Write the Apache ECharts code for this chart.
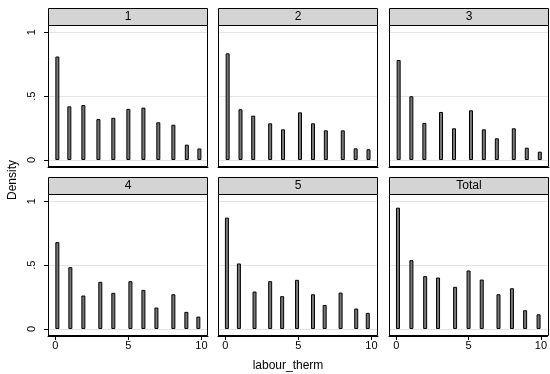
<!DOCTYPE html>
<html>
  <head>
    <meta charset="utf-8" />
    <title>labour_therm histogram</title>
    <style>
      body {
        margin: 0;
        padding: 0;
        background: #fff;
      }
      #chart {
        width: 550px;
        height: 374px;
      }
    </style>
  </head>
  <body>
    <div id="chart"></div>
    <script src="https://cdn.jsdelivr.net/npm/echarts@6/dist/echarts.min.js"></script>
    <script type="text/javascript">
      // panel titles
      var panelNames = ['1', '2', '3', '4', '5', 'Total'];

      // bar centres (labour_therm)
      var x1 = [0.14, 0.96, 1.92, 2.95, 3.97, 5.0, 6.03, 7.05, 8.08, 9.0, 9.86];
      var x2 = [0.16, 1.04, 1.91, 3.07, 3.95, 5.11, 6.0, 6.88, 8.04, 8.92, 9.8];
      var x3 = [0.16, 1.03, 1.92, 3.06, 3.95, 5.11, 5.99, 6.88, 8.04, 8.93, 9.82];
      var x4 = [0.14, 1.03, 1.92, 3.08, 3.97, 5.14, 6.03, 6.92, 8.08, 8.97, 9.79];
      var x5 = [0.11, 0.93, 2.0, 3.07, 3.89, 4.91, 6.0, 6.8, 7.89, 8.96, 9.75];
      var xTotal = [0.12, 1.05, 2.0, 2.89, 4.07, 5.0, 5.91, 7.07, 8.0, 8.91, 9.84];

      // densities
      var d1 = [0.81, 0.42, 0.43, 0.32, 0.33, 0.4, 0.41, 0.295, 0.276, 0.12, 0.09];
      var d2 = [0.835, 0.397, 0.347, 0.287, 0.24, 0.373, 0.287, 0.232, 0.232, 0.091, 0.084];
      var d3 = [0.783, 0.499, 0.29, 0.376, 0.248, 0.389, 0.24, 0.17, 0.248, 0.096, 0.065];
      var d4 = [0.68, 0.484, 0.262, 0.369, 0.283, 0.374, 0.306, 0.168, 0.272, 0.134, 0.097];
      var d5 = [0.872, 0.513, 0.293, 0.374, 0.257, 0.385, 0.272, 0.188, 0.285, 0.16, 0.126];
      var dTotal = [0.95, 0.539, 0.414, 0.403, 0.33, 0.458, 0.387, 0.272, 0.319, 0.147, 0.115];

      // axis ticks
      var xTicks = [0, 5, 10];
      var yTicks = [0, 0.5, 1];

      var panelX = [x1, x2, x3, x4, x5, xTotal];
      var panelD = [d1, d2, d3, d4, d5, dTotal];

      var font = 'Liberation Sans, Arial, Helvetica, sans-serif';
      var colLeft = [48, 218, 389];
      var rowTop = [25, 194];
      var plotW = 160;
      var plotH = 142;
      var headH = 17;

      var grids = [], xAxes = [], yAxes = [], series = [], graphics = [];

      panelNames.forEach(function (name, i) {
        var col = i % 3;
        var row = Math.floor(i / 3);
        var left = colLeft[col];
        var top = rowTop[row];

        grids.push({
          left: left,
          top: top,
          width: plotW,
          height: plotH,
          show: false
        });

        xAxes.push({
          type: 'value',
          gridIndex: i,
          min: -0.5,
          max: 10.45,
          axisLine: { show: true, onZero: false, lineStyle: { color: '#000', width: 1 } },
          splitLine: { show: false },
          axisTick: {
            show: row === 1,
            inside: false,
            length: 4,
            customValues: xTicks,
            lineStyle: { color: '#000', width: 1 }
          },
          axisLabel: {
            show: row === 1,
            customValues: xTicks,
            margin: 4,
            color: '#000',
            fontSize: 11,
            fontFamily: font
          }
        });

        yAxes.push({
          type: 'value',
          gridIndex: i,
          min: -0.055,
          max: 1.057,
          axisLine: { show: true, onZero: false, lineStyle: { color: '#000', width: 1 } },
          splitLine: { show: false },
          axisTick: {
            show: col === 0,
            inside: false,
            length: 4,
            customValues: yTicks,
            lineStyle: { color: '#000', width: 1 }
          },
          axisLabel: {
            show: col === 0,
            customValues: yTicks,
            rotate: 90,
            margin: 11,
            color: '#000',
            fontSize: 11,
            fontFamily: font,
            formatter: function (v) {
              return v === 0.5 ? '.5' : String(v);
            }
          }
        });

        // light grid lines behind the bars
        series.push({
          type: 'line',
          xAxisIndex: i,
          yAxisIndex: i,
          data: [],
          silent: true,
          z: 1,
          markLine: {
            silent: true,
            symbol: 'none',
            z: 1,
            label: { show: false },
            lineStyle: { color: '#e3e3e3', width: 1, type: 'solid' },
            data: yTicks.map(function (t) {
              return { yAxis: t };
            })
          }
        });

        series.push({
          type: 'bar',
          xAxisIndex: i,
          yAxisIndex: i,
          barWidth: 4,
          z: 3,
          itemStyle: {
            color: '#777777',
            borderColor: '#000',
            borderWidth: 1
          },
          data: panelX[i].map(function (x, k) {
            return [x, panelD[i][k]];
          })
        });

        // plot frame
        graphics.push({
          type: 'rect',
          z: 10,
          silent: true,
          shape: { x: left + 0.5, y: top + 0.5, width: plotW - 1, height: plotH - 1 },
          style: { fill: 'none', stroke: '#000', lineWidth: 1 }
        });

        // strip header
        graphics.push({
          type: 'rect',
          z: 10,
          shape: { x: left + 0.5, y: top - headH + 0.5, width: plotW - 1, height: headH },
          style: { fill: '#d4d4d4', stroke: '#000', lineWidth: 1 }
        });
        graphics.push({
          type: 'text',
          z: 11,
          x: left + plotW / 2,
          y: top - headH / 2,
          style: {
            text: name,
            fill: '#000',
            font: '12px ' + font,
            align: 'center',
            verticalAlign: 'middle'
          }
        });
      });

      graphics.push({
        type: 'text',
        x: 13,
        y: 180,
        rotation: Math.PI / 2,
        style: {
          text: 'Density',
          fill: '#000',
          font: '12px ' + font,
          align: 'center',
          verticalAlign: 'middle'
        }
      });
      graphics.push({
        type: 'text',
        x: 288,
        y: 366,
        style: {
          text: 'labour_therm',
          fill: '#000',
          font: '12px ' + font,
          align: 'center',
          verticalAlign: 'middle'
        }
      });

      var chart = echarts.init(document.getElementById('chart'), null, { renderer: 'canvas' });
      chart.setOption({
        animation: false,
        backgroundColor: '#fff',
        grid: grids,
        xAxis: xAxes,
        yAxis: yAxes,
        series: series,
        graphic: graphics
      });
    </script>
  </body>
</html>
